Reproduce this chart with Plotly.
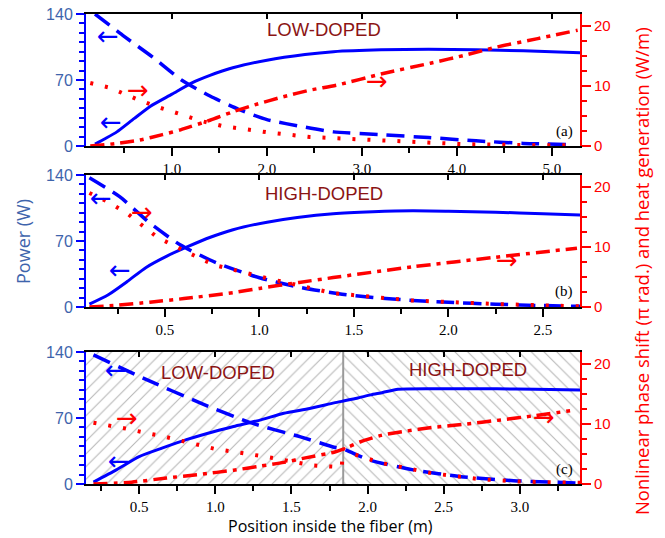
import plotly.graph_objects as go

# ---------------- data ----------------
# Panel (a) LOW-DOPED
A_X_SIG = [0.19, 0.3, 0.42, 0.6, 0.77, 1.0, 1.21, 1.4, 1.64, 2.0, 2.4, 2.7, 3.2, 3.7, 4.2, 4.7, 5.3]
A_SIG = [2, 8, 15, 29, 42, 55, 67, 75, 83, 91, 97, 100, 102, 102.5, 102, 101, 99]
A_X_PUMP = [0.19, 0.5, 0.8, 1.1, 1.4, 1.7, 2.0, 2.4, 2.7, 3.2, 3.7, 4.2, 4.7, 5.2]
A_PUMP = [140, 116, 94, 70, 53, 39, 28, 20, 15, 12, 9, 5.5, 2.8, 1.5]
A_X_HEAT = [0.14, 0.35, 0.63, 0.85, 1.09, 1.3, 1.54, 1.8, 2.0, 2.45, 2.74, 3.37, 4.07, 4.7, 5.25]
A_HEAT = [10.5, 9.7, 7.8, 6.5, 5.3, 4.2, 3.3, 2.7, 2.3, 1.5, 1.3, 0.7, 0.3, 0.15, 0.1]
A_X_PHASE = [0.14, 0.4, 0.66, 0.9, 1.09, 1.4, 1.64, 1.9, 2.17, 2.45, 2.75, 3.2, 3.72, 4.1, 4.42, 4.85, 5.27]
A_PHASE = [0, 0.4, 1.0, 1.9, 2.7, 4.3, 5.7, 7.0, 8.2, 9.3, 10.2, 12.0, 13.8, 15.2, 16.5, 17.9, 19.3]

# Panel (b) HIGH-DOPED
B_X_SIG = [0.10, 0.2, 0.3, 0.4, 0.51, 0.62, 0.74, 0.86, 1.04, 1.2, 1.39, 1.6, 1.81, 2.0, 2.25, 2.5, 2.7]
B_SIG = [3, 13, 27, 42, 54, 64, 74, 82, 90, 95, 99, 101, 102, 101.5, 100.5, 99, 97.5]
B_X_PUMP = [0.10, 0.26, 0.42, 0.58, 0.77, 1.0, 1.21, 1.42, 1.6, 1.81, 2.0, 2.25, 2.5, 2.7]
B_PUMP = [137, 117, 89, 66, 47, 31, 21, 14, 10, 7, 5, 3, 1.5, 0.7]
B_X_HEAT = [0.10, 0.2, 0.3, 0.46, 0.6, 0.76, 1.04, 1.39, 1.8, 2.25, 2.7]
B_HEAT = [19, 17.5, 15.6, 11.6, 9.4, 7.0, 4.8, 2.3, 1.1, 0.5, 0.1]
B_X_PHASE = [0.10, 0.25, 0.42, 0.6, 0.86, 1.0, 1.21, 1.39, 1.81, 2.25, 2.68]
B_PHASE = [0, 0.3, 0.8, 1.4, 2.4, 3.1, 4.1, 4.9, 6.7, 8.3, 9.8]

# Panel (c) LOW-DOPED + HIGH-DOPED
C_X_SIG = [0.2, 0.35, 0.5, 0.65, 0.81, 1.0, 1.12, 1.3, 1.45, 1.62, 1.78, 1.84, 1.93, 2.02, 2.1, 2.2, 2.5, 2.85, 3.1, 3.4]
C_SIG = [2, 15, 29, 38, 47, 56, 61, 68, 75, 80, 86, 88, 91, 94.5, 97, 100.5, 101, 101, 100.5, 99.7]
C_X_PUMP = [0.2, 0.53, 0.9, 1.23, 1.56, 1.78, 1.84, 2.02, 2.3, 2.63, 2.96, 3.4]
C_PUMP = [137, 112, 86, 65, 50, 39, 37, 25, 15, 7.5, 3.5, 1]
C_X_HEAT = [0.2, 0.4, 0.68, 0.99, 1.34, 1.64, 1.83, 1.84, 1.87, 2.09, 2.42, 2.74, 3.0, 3.4]
C_HEAT = [10.2, 9.3, 7.8, 5.9, 4.5, 3.1, 2.8, 5.9, 5.3, 3.5, 1.8, 0.8, 0.4, 0.2]
C_X_PHASE = [0.2, 0.45, 0.68, 0.9, 1.12, 1.3, 1.45, 1.6, 1.78, 1.84, 1.95, 2.09, 2.25, 2.42, 2.65, 2.85, 3.1, 3.33]
C_PHASE = [0, 0.3, 1.0, 1.6, 2.3, 3.0, 3.6, 4.4, 5.3, 5.8, 7.0, 8.1, 8.8, 9.4, 10.0, 10.6, 11.4, 12.2]
C_SECTIONS = [0.151, 1.84, 3.395]  # low-doped from..to, high-doped to

X_RANGES = [[0.095, 5.295], [0.082, 2.696], [0.151, 3.395]]
X_DTICK = [1.0, 0.5, 0.5]
POWER_RANGE = [0, 140]
RIGHT_RANGE = [0, 22]
PANEL_LABELS = ["(a)", "(b)", "(c)"]

BLUE = "#0000FF"
RED = "#FF0000"
TICKBLUE = "#3E64AC"
MAROON = "#8B1414"

fig = go.Figure()

# ---------- hatch regions in panel (c) ----------
for (x0, x1), shp in zip([(C_SECTIONS[0], C_SECTIONS[1]), (C_SECTIONS[1], C_SECTIONS[2])], ["/", "\\"]):
    fig.add_trace(go.Scatter(
        x=[x0, x1, x1, x0, x0], y=[0, 0, 140, 140, 0], mode="lines", fill="toself",
        line=dict(width=0, color="rgba(0,0,0,0)"), fillcolor="rgba(0,0,0,0)",
        fillpattern=dict(shape=shp, fgcolor="#6e6e6e", bgcolor="white", size=9, solidity=0.12),
        xaxis="x3", yaxis="y3", hoverinfo="skip", showlegend=False))
fig.add_trace(go.Scatter(x=[C_SECTIONS[1], C_SECTIONS[1]], y=POWER_RANGE, mode="lines",
                         line=dict(color="#9a9a9a", width=2), xaxis="x3", yaxis="y3",
                         hoverinfo="skip", showlegend=False))

panels = [
    (A_X_SIG, A_SIG, A_X_PUMP, A_PUMP, A_X_HEAT, A_HEAT, A_X_PHASE, A_PHASE),
    (B_X_SIG, B_SIG, B_X_PUMP, B_PUMP, B_X_HEAT, B_HEAT, B_X_PHASE, B_PHASE),
    (C_X_SIG, C_SIG, C_X_PUMP, C_PUMP, C_X_HEAT, C_HEAT, C_X_PHASE, C_PHASE),
]

for i, (xs, s, xp, p, xh, h, xph, ph) in enumerate(panels):
    xa = "x" if i == 0 else f"x{i+1}"
    ya = "y" if i == 0 else f"y{i+1}"
    yr = f"y{i+4}"
    fig.add_trace(go.Scatter(x=xs, y=s, mode="lines", line=dict(color=BLUE, width=3, shape="spline", smoothing=0.6),
                             xaxis=xa, yaxis=ya, showlegend=False))
    fig.add_trace(go.Scatter(x=xp, y=p, mode="lines", line=dict(color=BLUE, width=3.5, dash="18px,9px", shape="spline", smoothing=0.6),
                             xaxis=xa, yaxis=ya, showlegend=False))
    fig.add_trace(go.Scatter(x=xh, y=h, mode="lines", line=dict(color=RED, width=4, dash="3px,12px"),
                             xaxis=xa, yaxis=yr, showlegend=False))
    fig.add_trace(go.Scatter(x=xph, y=ph, mode="lines", line=dict(color=RED, width=3.5, dash="14px,6px,4px,6px", shape="spline", smoothing=0.6),
                             xaxis=xa, yaxis=yr, showlegend=False))
    # dummy trace to activate the top (mirror) axis
    fig.add_trace(go.Scatter(x=[None], y=[None], xaxis=f"x{i+4}", yaxis=ya, showlegend=False, hoverinfo="skip"))

domains = [[0.7191, 1.0], [0.3766, 0.6574], [0.0, 0.2809]]
lay = dict(width=665, height=538, margin=dict(l=86, r=85, t=14, b=54, autoexpand=False),
           paper_bgcolor="white", plot_bgcolor="white", showlegend=False)

for i in range(3):
    xk = "xaxis" if i == 0 else f"xaxis{i+1}"
    yk = "yaxis" if i == 0 else f"yaxis{i+1}"
    xa = "x" if i == 0 else f"x{i+1}"
    ya = "y" if i == 0 else f"y{i+1}"
    lay[xk] = dict(domain=[0, 1], anchor=ya, range=X_RANGES[i], tickmode="linear", tick0=0, dtick=X_DTICK[i],
                   tickformat=".1f", ticks="outside", ticklen=8, tickwidth=1.5, tickcolor="black",
                   minor=dict(dtick=X_DTICK[i] / 2, ticks="outside", ticklen=5, tickwidth=1.5, tickcolor="black"),
                   showline=True, linecolor="black", linewidth=1.5, showgrid=False, zeroline=False,
                   automargin=False, tickfont=dict(family="Liberation Serif", size=15, color="black"))
    lay[f"xaxis{i+4}"] = dict(overlaying=xa, anchor=ya, side="top", range=X_RANGES[i], tickmode="linear", tick0=0,
                              dtick=X_DTICK[i], ticks="inside", ticklen=5, tickwidth=1.5, tickcolor="black",
                              showticklabels=False, showline=True, linecolor="black", linewidth=1.5,
                              showgrid=False, zeroline=False, automargin=False)
    lay[yk] = dict(domain=domains[i], anchor=xa, range=POWER_RANGE, tickmode="linear", tick0=0, dtick=70,
                   ticks="outside", ticklen=8, tickwidth=2, tickcolor=BLUE,
                   minor=dict(dtick=10, ticks="outside", ticklen=5, tickwidth=2, tickcolor=BLUE),
                   showline=True, linecolor=BLUE, linewidth=2, showgrid=False, zeroline=False, automargin=False,
                   tickfont=dict(family="Liberation Sans", size=16, color=TICKBLUE))
    lay[f"yaxis{i+4}"] = dict(overlaying=ya, anchor=xa, side="right", range=RIGHT_RANGE, tickmode="linear", tick0=0,
                              dtick=10, ticks="outside", ticklen=9, tickwidth=2, tickcolor=RED,
                              minor=dict(dtick=2.5, ticks="outside", ticklen=5, tickwidth=2, tickcolor=RED),
                              showline=True, linecolor=RED, linewidth=2, showgrid=False, zeroline=False,
                              automargin=False, tickfont=dict(family="Liberation Sans", size=15, color=RED))

def ann(x, y, text, font, xref="paper", yref="paper", **kw):
    d = dict(x=x, y=y, xref=xref, yref=yref, text=text, showarrow=False, font=font,
             xanchor="center", yanchor="middle")
    d.update(kw)
    return d

label_font = dict(family="Liberation Sans", size=18.5, color=MAROON)
anns = [
    ann(0.482, 0.966, "LOW-DOPED", label_font),
    ann(0.482, 0.619, "HIGH-DOPED", label_font),
    ann(0.267, 0.238, "LOW-DOPED", label_font),
    ann(0.773, 0.243, "HIGH-DOPED", label_font),
]
for lbl, yy in zip(PANEL_LABELS, [0.749, 0.409, 0.030]):
    anns.append(ann(0.968, yy, lbl, dict(family="Liberation Serif", size=15, color="black")))

# arrows (glyphs) : (x, y, x-axis, y-axis, glyph, colour)
ARROWS = [
    (0.33, 117, "x", "y", "\u2190", BLUE), (0.36, 25, "x", "y", "\u2190", BLUE),
    (0.64, 9.3, "x", "y4", "\u2192", RED), (3.16, 10.8, "x", "y4", "\u2192", RED),
    (0.16, 116, "x2", "y2", "\u2190", BLUE), (0.26, 39, "x2", "y2", "\u2190", BLUE),
    (0.38, 15.8, "x2", "y5", "\u2192", RED), (2.31, 7.8, "x2", "y5", "\u2192", RED),
    (0.35, 121, "x3", "y3", "\u2190", BLUE), (0.37, 24, "x3", "y3", "\u2190", BLUE),
    (0.42, 11.0, "x3", "y6", "\u2192", RED), (3.16, 11.1, "x3", "y6", "\u2192", RED),
]
for ax_, ay_, xr, yr, g, c in ARROWS:
    anns.append(ann(ax_, ay_, g, dict(family="DejaVu Sans", size=26, color=c), xref=xr, yref=yr))

# axis titles
anns += [
    ann(-0.1275, 0.515, "Power (W)", dict(family="Open Sans", size=18, color=TICKBLUE), textangle=-90),
    ann(1.1235, 0.453, "Nonlinear phase shift (\u03c0 rad.) and heat generation (W/m)",
        dict(family="Open Sans", size=18.5, color=RED), textangle=-90),
    ann(0.494, -0.0894, "Position inside the fiber (m)", dict(family="Open Sans", size=16, color="black")),
]
lay["annotations"] = anns
fig.update_layout(**lay)
# remove the browser's default 8px body margin so the figure fills the window exactly
fig.write_html("out.html", config={"displayModeBar": False},
               post_script="document.body.style.margin='0px';")
